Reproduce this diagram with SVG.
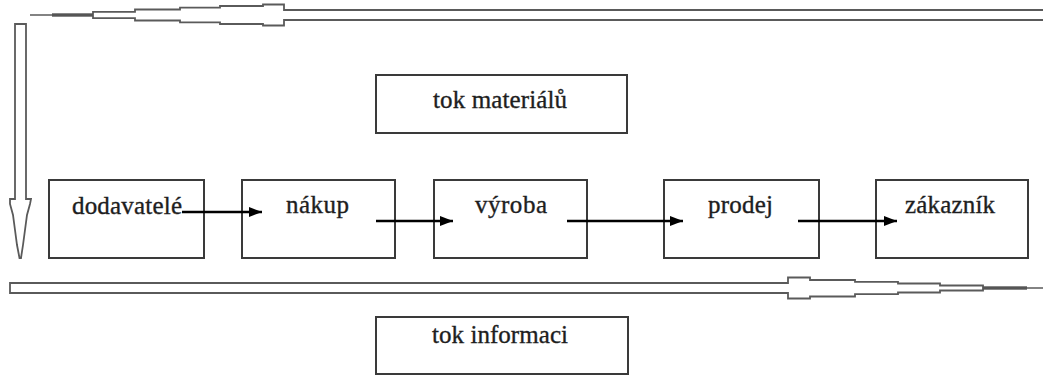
<svg xmlns="http://www.w3.org/2000/svg" width="1043" height="376" viewBox="0 0 1043 376">
  <style>
    .box { fill: #ffffff; stroke: #3a3a3a; stroke-width: 2; }
    .label { font-family: "Liberation Serif", "Times New Roman", serif; font-size: 25px; fill: #1e1e1e; stroke: #1e1e1e; stroke-width: 0.35; }
    .flow { fill: #ffffff; stroke: #5a5a5a; stroke-width: 1.8; stroke-linejoin: miter; }
    .flow-core { fill: #555555; stroke: none; }
    .flow-tail { stroke: #5a5a5a; stroke-width: 1.5; fill: none; }
    .link { stroke: #000000; stroke-width: 2.6; fill: none; marker-end: url(#head); }
  </style>
  <defs>
    <marker id="head" viewBox="0 0 13 10" refX="13" refY="5" markerWidth="13" markerHeight="10" markerUnits="userSpaceOnUse" orient="auto">
      <path d="M0,0 L13,5 L0,10 Z" fill="#000000"/>
    </marker>
  </defs>

  <rect width="1043" height="376" fill="#ffffff"/>

  <g id="tok-materialu">
    <rect class="box" x="376" y="75" width="251" height="58"/>
    <text class="label" x="433" y="108" textLength="134" lengthAdjust="spacing">tok materiálů</text>
  </g>

  <g id="dodavatele">
    <rect class="box" x="49" y="180" width="155" height="78"/>
    <text class="label" x="72" y="214" textLength="110" lengthAdjust="spacing">dodavatelé</text>
  </g>

  <g id="nakup">
    <rect class="box" x="242" y="180" width="153" height="78"/>
    <text class="label" x="286" y="213" textLength="63" lengthAdjust="spacing">nákup</text>
  </g>

  <g id="vyroba">
    <rect class="box" x="434" y="180" width="153" height="78"/>
    <text class="label" x="475" y="213" textLength="72" lengthAdjust="spacing">výroba</text>
  </g>

  <g id="prodej">
    <rect class="box" x="664" y="180" width="155" height="78"/>
    <text class="label" x="708" y="213" textLength="65" lengthAdjust="spacing">prodej</text>
  </g>

  <g id="zakaznik">
    <rect class="box" x="876" y="180" width="152" height="78"/>
    <text class="label" x="905" y="213" textLength="90" lengthAdjust="spacing">zákazník</text>
  </g>

  <g id="tok-informaci">
    <rect class="box" x="376" y="317" width="252" height="57"/>
    <text class="label" x="432" y="343" textLength="136" lengthAdjust="spacing">tok informaci</text>
  </g>

  <g id="connectors">
    <!-- material flow along the top, tapering towards the left -->
    <path class="flow" d="M1045,10 L284,10 L284,4.5 L263,4.5 L263,6 L220,6 L220,7.7 L180,7.7 L180,9.5 L135,9.5 L135,11.8 L93,11.8 L93,18.2 L135,18.2 L135,20.5 L180,20.5 L180,22.3 L220,22.3 L220,24 L263,24 L263,25.5 L284,25.5 L284,20 L1045,20"/>
    <rect class="flow-core" x="52" y="13.3" width="41" height="3.4"/>
    <line class="flow-tail" x1="30" y1="15" x2="52" y2="15"/>

    <!-- downward flow on the left edge -->
    <path class="flow" d="M15,24 L26,24 L26,199 L31,199 L30,204 L27,215 L25,230 L23,245 L21,258 L19.5,258 L17,245 L15,230 L13,215 L10,204 L10,199 L15,199 Z"/>

    <!-- information flow along the bottom, tapering towards the right -->
    <path class="flow" d="M10,283 L788,283 L788,277.5 L810,277.5 L810,280 L855,280 L855,281.8 L898,281.8 L898,283.5 L940,283.5 L940,285.5 L983,285.5 L983,290.5 L940,290.5 L940,292.5 L898,292.5 L898,294.2 L855,294.2 L855,296.5 L810,296.5 L810,298.5 L788,298.5 L788,293 L10,293 Z"/>
    <rect class="flow-core" x="983" y="286.3" width="44" height="3.4"/>
    <line class="flow-tail" x1="1027" y1="288" x2="1043" y2="288"/>

    <!-- process chain -->
    <line class="link" x1="182" y1="212" x2="262" y2="212"/>
    <line class="link" x1="376" y1="221" x2="453" y2="221"/>
    <line class="link" x1="567" y1="221" x2="683" y2="221"/>
    <line class="link" x1="798" y1="221" x2="897" y2="221"/>
  </g>
</svg>
